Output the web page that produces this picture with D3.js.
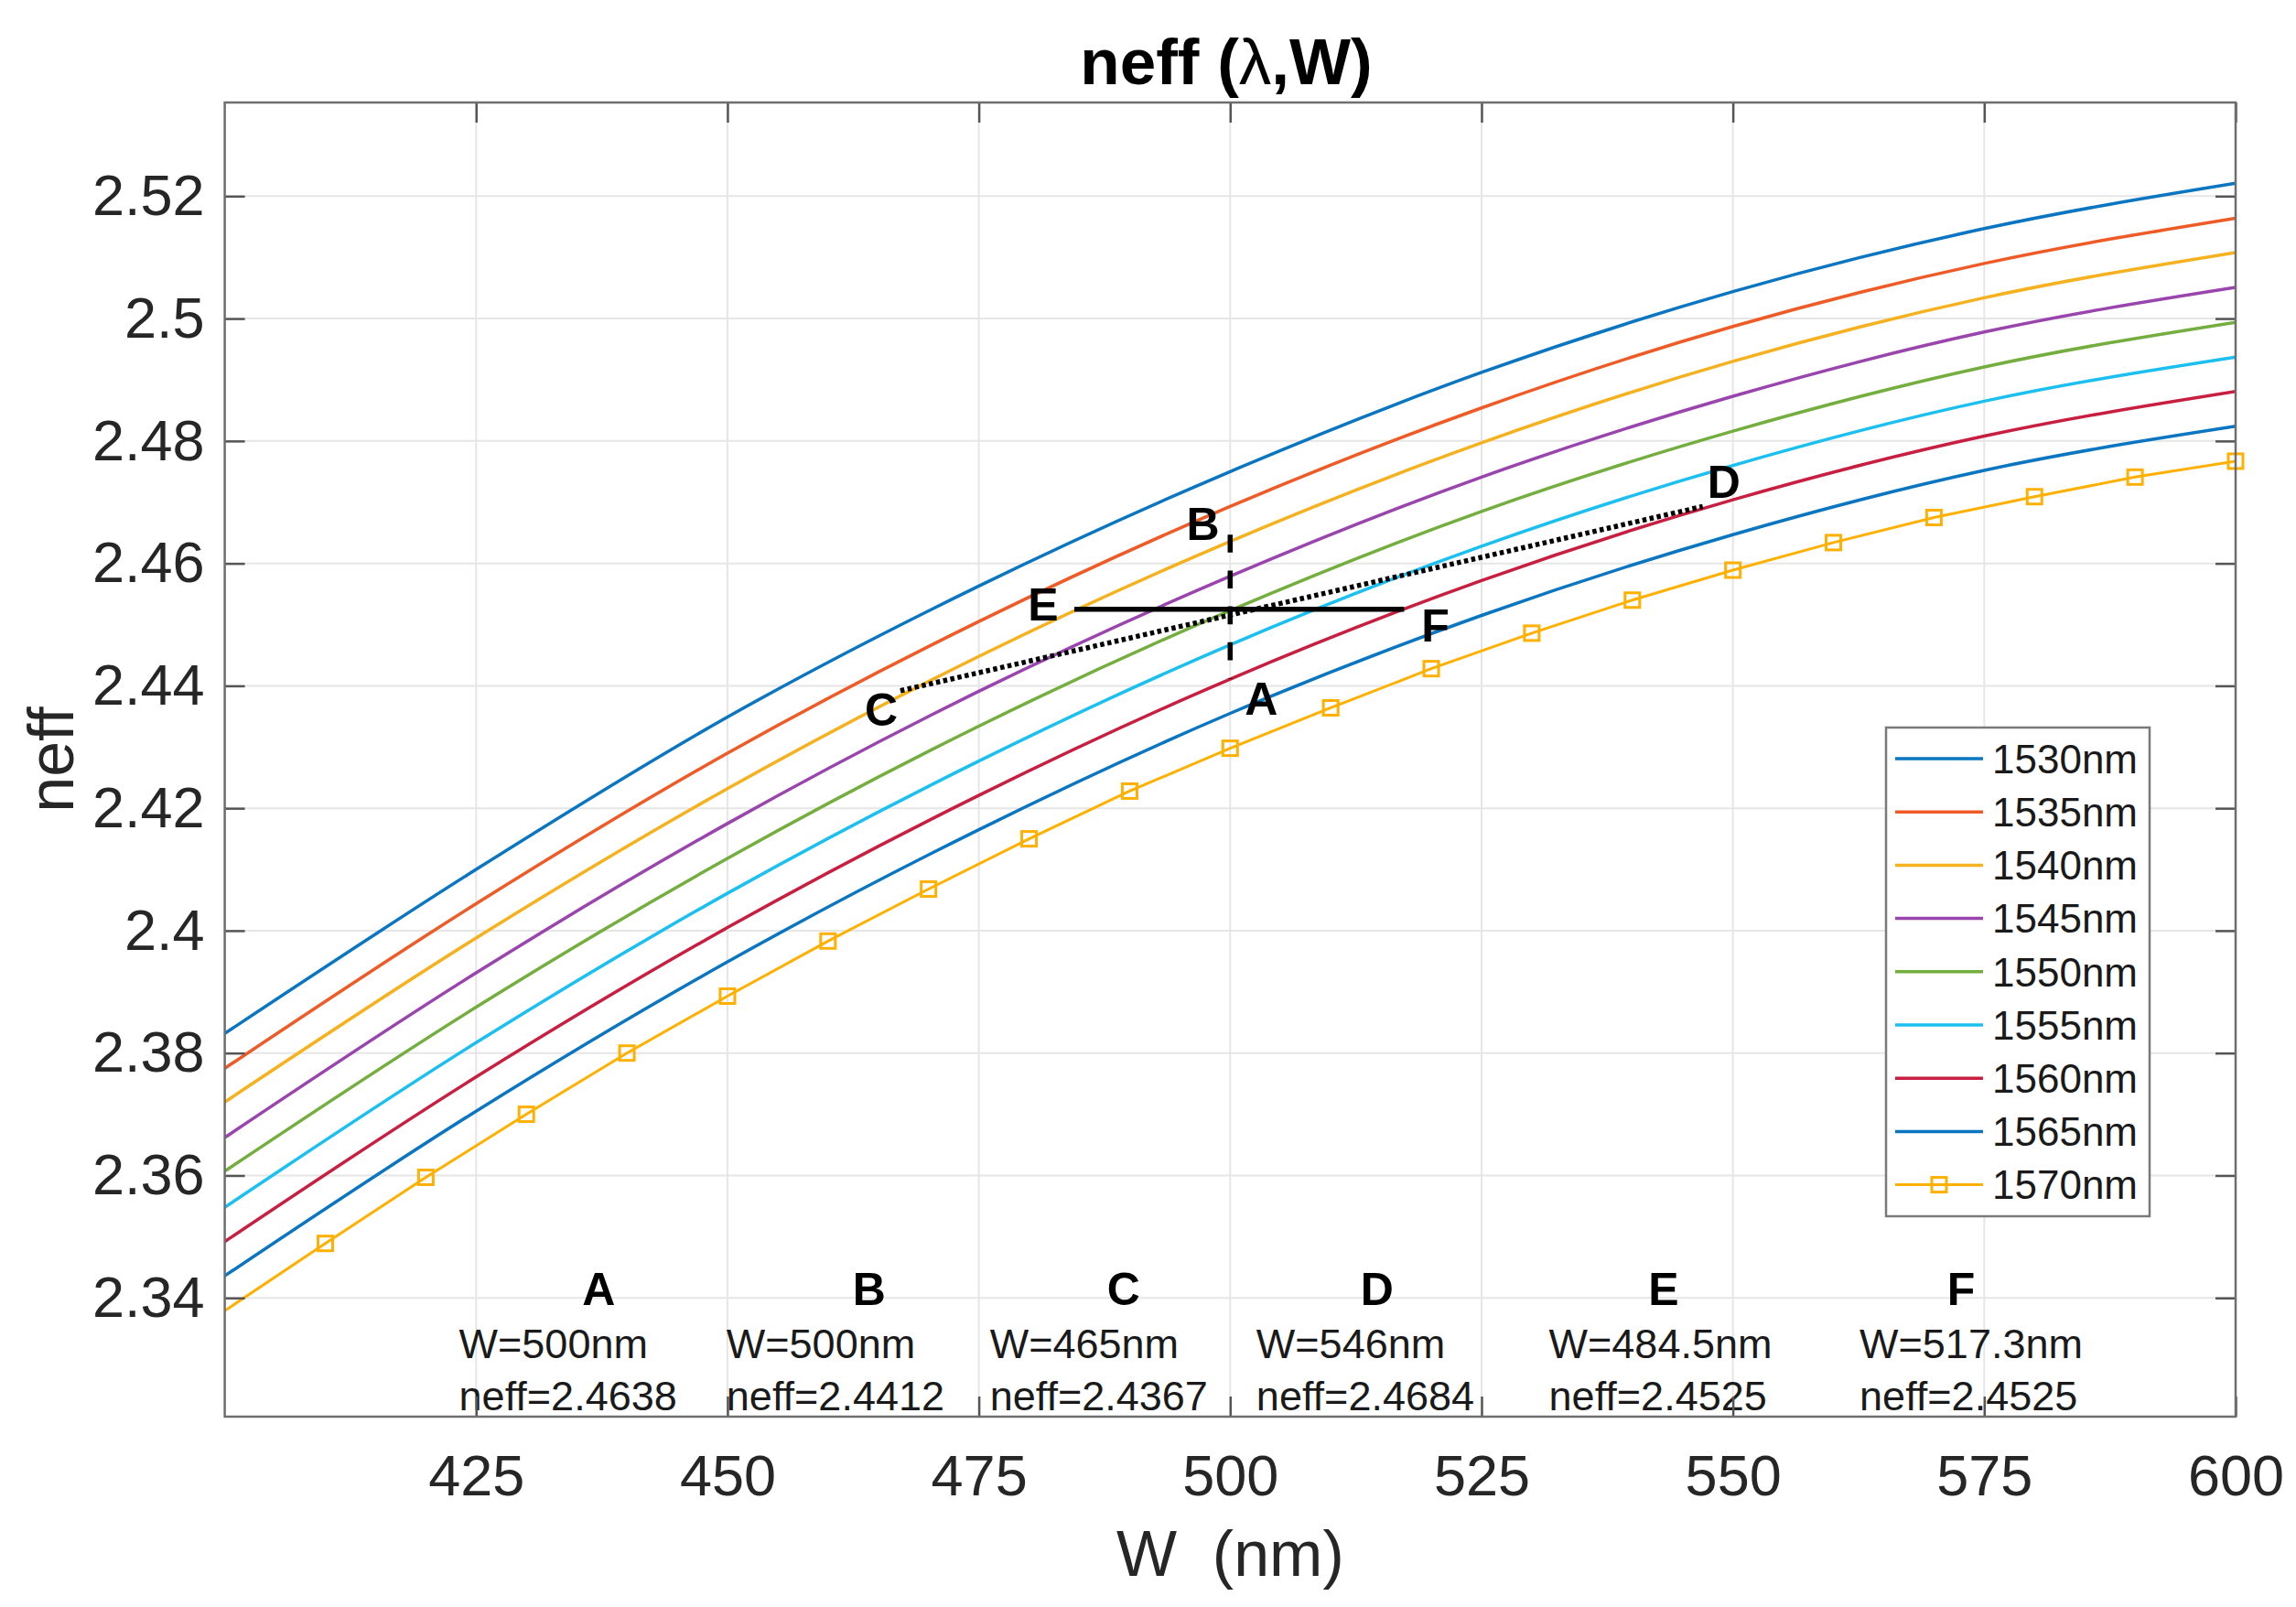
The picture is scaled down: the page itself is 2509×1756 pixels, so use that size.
<!DOCTYPE html>
<html lang="en">
<head>
    <meta charset="utf-8">
    <title>neff (λ,W)</title>
    <style>
        html, body { margin: 0; padding: 0; background: #fff; }
        text { font-family: "Liberation Sans", Arial, Helvetica, sans-serif; }
    </style>
</head>
<body>

<script src="https://cdn.jsdelivr.net/npm/d3@7/dist/d3.min.js"></script>
<script>
    // widths (nm) where the plain curves were read
    var widths = [400, 425, 450, 475, 500, 525, 550, 575, 600];

    var neff1530 = [2.3832, 2.4100, 2.4349, 2.4563, 2.4750, 2.4912, 2.5044, 2.5147, 2.5221];
    var neff1535 = [2.3775, 2.4044, 2.4290, 2.4505, 2.4693, 2.4854, 2.4987, 2.5090, 2.5164];
    var neff1540 = [2.3720, 2.3988, 2.4232, 2.4448, 2.4636, 2.4797, 2.4930, 2.5034, 2.5108];
    var neff1545 = [2.3662, 2.3931, 2.4175, 2.4391, 2.4579, 2.4741, 2.4873, 2.4978, 2.5051];
    var neff1550 = [2.3607, 2.3875, 2.4118, 2.4334, 2.4523, 2.4685, 2.4816, 2.4921, 2.4994];
    var neff1555 = [2.3548, 2.3817, 2.4061, 2.4277, 2.4467, 2.4628, 2.4760, 2.4865, 2.4937];
    var neff1560 = [2.3492, 2.3761, 2.4005, 2.4221, 2.4411, 2.4572, 2.4704, 2.4808, 2.4881];
    var neff1565 = [2.3436, 2.3705, 2.3949, 2.4165, 2.4355, 2.4515, 2.4647, 2.4752, 2.4824];

    // 1570nm has a marker every 10 nm
    var widths1570 = [400, 410, 420, 430, 440, 450, 460, 470, 480, 490, 500,
                      510, 520, 530, 540, 550, 560, 570, 580, 590, 600];
    var neff1570 = [2.3379, 2.3489, 2.3597, 2.3700, 2.3800, 2.3893, 2.3983, 2.4068, 2.4150, 2.4228, 2.4298,
                    2.4364, 2.4428, 2.4486, 2.4540, 2.4589, 2.4634, 2.4675, 2.4709, 2.4741, 2.4767];

    var seriesNames = ["1530nm", "1535nm", "1540nm", "1545nm", "1550nm", "1555nm", "1560nm", "1565nm", "1570nm"];

    var xTicks = [425, 450, 475, 500, 525, 550, 575, 600];
    var yTicks = [2.34, 2.36, 2.38, 2.4, 2.42, 2.44, 2.46, 2.48, 2.5, 2.52];

    // marked points A..F
    var pointNames = ["A", "B", "C", "D", "E", "F"];
    var pointW = [500, 500, 465, 546, 484.5, 517.3];
    var pointNeff = [2.4638, 2.4412, 2.4367, 2.4684, 2.4525, 2.4525];

    // dotted C-D segment as it is drawn
    var dottedW = [467.2, 547];
    var dottedNeff = [2.4392, 2.4693];

    function main() {
        var width = 2509,
            height = 1756;

        var left = 245.6, right = 2443, top = 112, bottom = 1548;

        var colors = ["#0a75c0", "#ef5b26", "#f6b11f", "#9a44ad", "#73ae3f",
                      "#1bbff0", "#c81f41", "#0a75c0", "#ffb000"];

        var x = d3.scaleLinear().domain([400, 600]).range([left, right]);
        var y = d3.scaleLinear().domain([2.3206, 2.5353]).range([bottom, top]);

        var svg = d3.select("body").append("svg")
            .attr("width", width)
            .attr("height", height)
            .style("display", "block")
            .style("background", "#fff");

        svg.append("defs").append("clipPath").attr("id", "plotClip")
            .append("rect")
            .attr("x", left).attr("y", top)
            .attr("width", right - left).attr("height", bottom - top);

        // grid
        var grid = svg.append("g");
        grid.selectAll("line.gx").data(xTicks.filter(function (d) { return d < 600; }))
            .enter().append("line")
            .attr("x1", x).attr("x2", x)
            .attr("y1", top).attr("y2", bottom)
            .attr("stroke", "#e6e6e6").attr("stroke-width", 2);
        grid.selectAll("line.gy").data(yTicks)
            .enter().append("line")
            .attr("x1", left).attr("x2", right)
            .attr("y1", y).attr("y2", y)
            .attr("stroke", "#e6e6e6").attr("stroke-width", 2);

        // curves
        var plain = [neff1530, neff1535, neff1540, neff1545, neff1550, neff1555, neff1560, neff1565];
        var series = plain.map(function (vals, i) {
            return {
                name: seriesNames[i],
                color: colors[i],
                points: widths.map(function (w, j) { return [w, vals[j]]; })
            };
        });
        series.push({
            name: seriesNames[8],
            color: colors[8],
            marker: true,
            points: widths1570.map(function (w, j) { return [w, neff1570[j]]; })
        });

        var smooth = d3.line()
            .x(function (d) { return x(d[0]); })
            .y(function (d) { return y(d[1]); })
            .curve(d3.curveMonotoneX);
        var straight = d3.line()
            .x(function (d) { return x(d[0]); })
            .y(function (d) { return y(d[1]); });

        var plot = svg.append("g").attr("clip-path", "url(#plotClip)");
        series.forEach(function (s) {
            plot.append("path")
                .attr("d", s.marker ? straight(s.points) : smooth(s.points))
                .attr("fill", "none")
                .attr("stroke", s.color)
                .attr("stroke-width", s.marker ? 3 : 3.5);
        });

        // squares of 1570nm (the one at the left limit is cut off)
        var sq = 16;
        svg.append("g").selectAll("rect")
            .data(series[8].points.filter(function (d) { return d[0] > 400; }))
            .enter().append("rect")
            .attr("x", function (d) { return x(d[0]) - sq / 2; })
            .attr("y", function (d) { return y(d[1]) - sq / 2; })
            .attr("width", sq).attr("height", sq)
            .attr("fill", "none")
            .attr("stroke", colors[8])
            .attr("stroke-width", 3);

        // annotation lines
        var ann = svg.append("g").attr("stroke", "#000").attr("fill", "none").attr("stroke-width", 5.5);
        ann.append("line")   // B - A, dashed
            .attr("x1", x(pointW[0])).attr("y1", y(pointNeff[0]) - 6)
            .attr("x2", x(pointW[1])).attr("y2", y(pointNeff[1]))
            .attr("stroke-dasharray", "19.6,19.6");
        ann.append("line")   // E - F
            .attr("x1", x(pointW[4])).attr("y1", y(pointNeff[4]))
            .attr("x2", x(pointW[5])).attr("y2", y(pointNeff[5]));
        ann.append("line")   // C - D, dotted
            .attr("x1", x(dottedW[0])).attr("y1", y(dottedNeff[0]))
            .attr("x2", x(dottedW[1])).attr("y2", y(dottedNeff[1]))
            .attr("stroke-dasharray", "4.5,3.5");

        // letters next to the lines (W, neff of the text anchor)
        var letterPos = {
            A: [503.1, 2.4353], B: [497.3, 2.4638], C: [465.3, 2.4335],
            D: [549.1, 2.4707], E: [481.4, 2.4507], F: [520.4, 2.4472]
        };
        svg.append("g").selectAll("text")
            .data(pointNames)
            .enter().append("text")
            .attr("x", function (d) { return x(letterPos[d][0]); })
            .attr("y", function (d) { return y(letterPos[d][1]); })
            .attr("text-anchor", "middle")
            .attr("font-size", 50)
            .attr("font-weight", "bold")
            .attr("fill", "#000")
            .text(function (d) { return d; });

        // value notes along the bottom
        var noteLetterW = [437.2, 464.1, 489.4, 514.6, 543.1, 572.7];
        var noteTextW = [423.3, 449.9, 476.1, 502.6, 531.7, 562.6];
        var notes = svg.append("g").attr("fill", "#1a1a1a");
        pointNames.forEach(function (n, i) {
            notes.append("text")
                .attr("x", x(noteLetterW[i])).attr("y", y(2.3388))
                .attr("text-anchor", "middle")
                .attr("font-size", 50).attr("font-weight", "bold").attr("fill", "#000")
                .text(n);
            notes.append("text")
                .attr("x", x(noteTextW[i])).attr("y", y(2.3301))
                .attr("font-size", 45)
                .text("W=" + pointW[i] + "nm");
            notes.append("text")
                .attr("x", x(noteTextW[i])).attr("y", y(2.3216))
                .attr("font-size", 45)
                .text("neff=" + pointNeff[i].toFixed(4));
        });

        // axes: ticks inside on all four sides
        var tickLen = 22;
        var axB = svg.append("g").attr("transform", "translate(0," + bottom + ")")
            .call(d3.axisBottom(x).tickValues(xTicks).tickSize(-tickLen).tickPadding(41)
                .tickFormat(d3.format("d")));
        var axT = svg.append("g").attr("transform", "translate(0," + top + ")")
            .call(d3.axisTop(x).tickValues(xTicks).tickSize(-tickLen).tickFormat(""));
        var axL = svg.append("g").attr("transform", "translate(" + left + ",0)")
            .call(d3.axisLeft(y).tickValues(yTicks).tickSize(-tickLen).tickPadding(22)
                .tickFormat(function (d) { return String(d); }));
        var axR = svg.append("g").attr("transform", "translate(" + right + ",0)")
            .call(d3.axisRight(y).tickValues(yTicks).tickSize(-tickLen).tickFormat(""));

        [axB, axT, axL, axR].forEach(function (g) {
            g.select(".domain").remove();
            g.selectAll(".tick line").attr("stroke", "#555").attr("stroke-width", 2.5);
            g.selectAll(".tick text")
                .attr("font-size", 63)
                .attr("font-family", "'Liberation Sans', Arial, sans-serif")
                .attr("fill", "#262626");
        });

        svg.append("rect")
            .attr("x", left).attr("y", top)
            .attr("width", right - left).attr("height", bottom - top)
            .attr("fill", "none")
            .attr("stroke", "#6e6e6e")
            .attr("stroke-width", 2.5);

        // title and axis labels
        var title = svg.append("text")
            .attr("x", 1340).attr("y", 92)
            .attr("text-anchor", "middle")
            .attr("font-size", 71)
            .attr("font-weight", "bold")
            .attr("fill", "#000")
            .style("white-space", "pre");
        title.append("tspan").text("neff (");
        title.append("tspan").attr("font-weight", "normal").text("λ");
        title.append("tspan").text(",W)");

        svg.append("text")
            .attr("x", (left + right) / 2).attr("y", 1722)
            .attr("text-anchor", "middle")
            .attr("font-size", 70)
            .attr("fill", "#262626")
            .style("white-space", "pre")
            .text("W  (nm)");

        svg.append("text")
            .attr("transform", "translate(80," + (top + bottom) / 2 + ") rotate(-90)")
            .attr("text-anchor", "middle")
            .attr("font-size", 70)
            .attr("fill", "#262626")
            .text("neff");

        // legend
        var lg = svg.append("g");
        lg.append("rect")
            .attr("x", 2061).attr("y", 795)
            .attr("width", 288).attr("height", 534)
            .attr("fill", "#fff")
            .attr("stroke", "#7a7a7a")
            .attr("stroke-width", 2.5);
        var rowH = 58.2;
        series.forEach(function (s, i) {
            var cy = 829 + i * rowH;
            lg.append("line")
                .attr("x1", 2071).attr("x2", 2167)
                .attr("y1", cy).attr("y2", cy)
                .attr("stroke", s.color)
                .attr("stroke-width", s.marker ? 3 : 3.5);
            if (s.marker) {
                lg.append("rect")
                    .attr("x", 2119 - sq / 2).attr("y", cy - sq / 2)
                    .attr("width", sq).attr("height", sq)
                    .attr("fill", "none")
                    .attr("stroke", s.color)
                    .attr("stroke-width", 3);
            }
            lg.append("text")
                .attr("x", 2177).attr("y", cy)
                .attr("dy", "0.36em")
                .attr("font-size", 44)
                .attr("fill", "#1a1a1a")
                .text(s.name);
        });
    }

    window.onload = function () {
        main();
    };
</script>
</body>
</html>
